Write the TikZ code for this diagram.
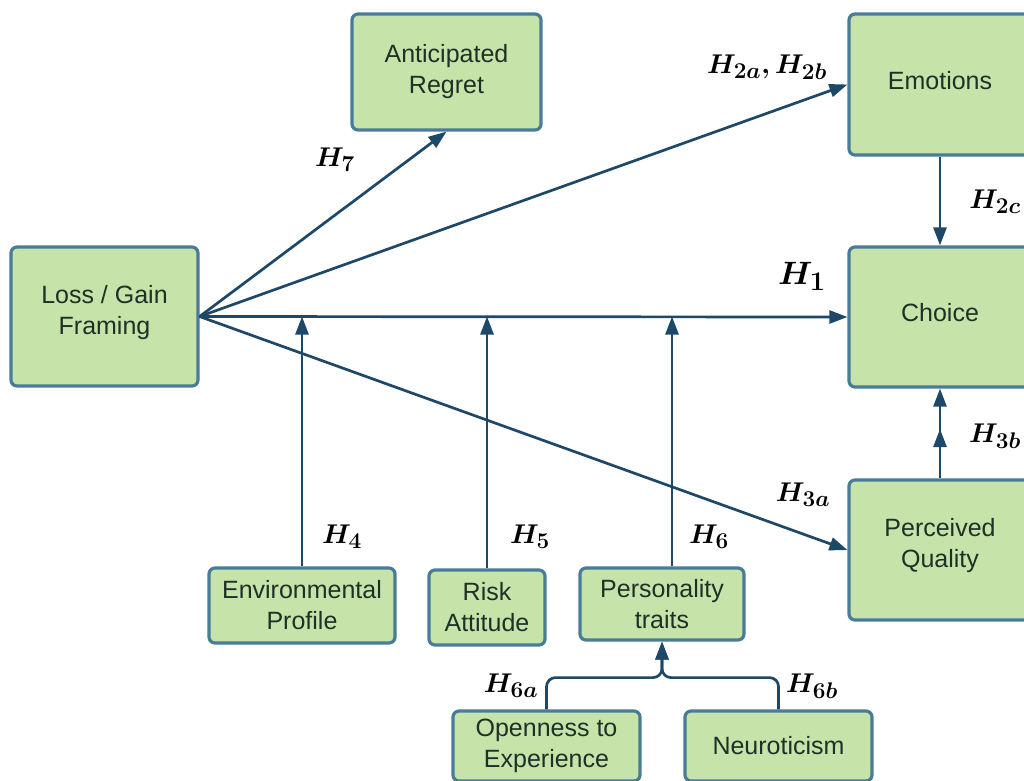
\documentclass[tikz,border=0pt]{standalone}
\usepackage{amsmath}
\usepackage{graphicx}
\usepackage{fontspec}
\setmainfont{Liberation Sans}
\usetikzlibrary{arrows.meta,decorations.markings}

\definecolor{boxfill}{RGB}{198,228,170}
\definecolor{boxline}{RGB}{72,124,152}
\definecolor{arrowc}{RGB}{30,72,104}
\definecolor{textc}{RGB}{32,48,38}

% bold math label, enlarged from the largest standard size
\newcommand{\hlab}[2][1.09]{\scalebox{#1}{\fontsize{24.88}{28}\selectfont\boldmath$#2$}}

\begin{document}
\begin{tikzpicture}[x=1pt,y=-1pt,
  box/.style={draw=boxline, fill=boxfill, line width=3.2pt, rounded corners=6pt,
    text=textc, font=\fontsize{25}{31}\selectfont, align=center, inner sep=0pt},
  tip/.style={-{Triangle[length=18pt,width=13pt]}},
  link/.style={draw=arrowc, line width=2.7pt, tip},
  hyp/.style={text=black, inner sep=0pt}]
\useasboundingbox (0,0) rectangle (1024,780);
\clip (0,0) rectangle (1024,780);

% boxes (text sits slightly above centre)
\node[box, minimum width=187pt, minimum height=139pt] (lg) at (104.5,316.5) {};
\node[text=textc, font=\fontsize{25}{31}\selectfont, align=center] (lgt) at (104.5,313) {Loss / Gain\\Framing};
\node[box, minimum width=189pt, minimum height=116pt] (ar) at (446.5,72) {Anticipated\\Regret};
\node[box, minimum width=182pt, minimum height=141pt] (em) at (940,84.5) {};
\node[text=textc, font=\fontsize{25}{31}\selectfont] (emt) at (940,80.5) {Emotions};
\node[box, minimum width=182pt, minimum height=140pt] (ch) at (940,317) {};
\node[text=textc, font=\fontsize{25}{31}\selectfont] (cht) at (940,313) {Choice};
\node[box, minimum width=182pt, minimum height=140pt] (pq) at (940,550) {};
\node[text=textc, font=\fontsize{25}{31}\selectfont, align=center] (pqt) at (940,546) {Perceived\\Quality};
\node[box, minimum width=186pt, minimum height=75pt] (env) at (302,605.5) {Environmental\\Profile};
\node[box, minimum width=116pt, minimum height=75pt] (risk) at (487,607.5) {Risk\\Attitude};
\node[box, minimum width=164pt, minimum height=72pt] (pt) at (662,604) {Personality\\traits};
\node[box, minimum width=187pt, minimum height=70pt] (op) at (546.5,746) {Openness to\\Experience};
\node[box, minimum width=187pt, minimum height=70pt] (neu) at (778.5,746) {Neuroticism};

% main effects from framing
\draw[link] (lg.east) -- (ar.south);
\draw[link] (lg.east) -- (em.west);
\draw[link] (lg.east) -- (ch.west);
\draw[link] (lg.east) -- (pq.west);

% moderators pointing at the framing-choice path
\draw[link] (env.north) -- (env.north |- lg.east);
\draw[link] (risk.north) -- (risk.north |- lg.east);
\draw[link] ([xshift=10pt]pt.north) -- ([xshift=10pt]pt.north |- lg.east);

% mediators into choice
\draw[link] (em.south) -- (ch.north);
\draw[link, postaction={decorate}, decoration={markings,
  mark=at position 0.55 with {\arrow{Triangle[length=18pt,width=13pt]}}}]
  (pq.north) -- (ch.south);

% personality facets
\path (pt.south) ++(0,36) coordinate (jn);
\draw[link, rounded corners=9pt] (op.north) |- (jn) -- (pt.south);
\draw[link, rounded corners=9pt] (neu.north) |- (jn) -- (pt.south);

% hypothesis labels
\node[hyp] (h7) at (335,160) {\hlab{H_7}};
\node[hyp] (h2ab) at (767,67) {\hlab{H_{2a}, H_{2b}}};
\node[hyp] (h2c) at (995,202) {\hlab{H_{2c}}};
\node[hyp] (h1) at (802,276) {\hlab[1.3]{H_1}};
\node[hyp] (h3b) at (995,436) {\hlab{H_{3b}}};
\node[hyp] (h3a) at (803,495) {\hlab{H_{3a}}};
\node[hyp] (h4) at (342,537) {\hlab{H_4}};
\node[hyp] (h5) at (530,537) {\hlab{H_5}};
\node[hyp] (h6) at (709,537) {\hlab{H_6}};
\node[hyp] (h6a) at (511,686) {\hlab{H_{6a}}};
\node[hyp] (h6b) at (812,686) {\hlab{H_{6b}}};
\end{tikzpicture}
\end{document}
